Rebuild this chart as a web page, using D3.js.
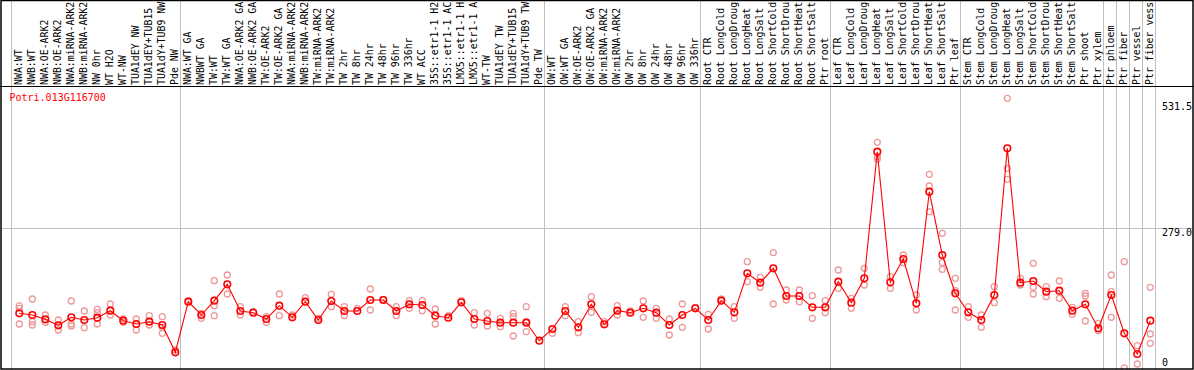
<!DOCTYPE html>
<html>
<head>
<meta charset="utf-8">
<script src="https://cdn.jsdelivr.net/npm/d3@7"></script>
<style>
  html, body { margin: 0; padding: 0; background: #fff; }
  svg { display: block; }
  text { font-family: "DejaVu Sans Mono", monospace; font-size: 10px; }
</style>
</head>
<body>
<div class="chart"></div>
<script>
// Category groups (columns), left to right; labels as shown (cut to 14 chars)
var nwCats = ["NWA:WT", "NWB:WT", "NWA:OE-ARK2", "NWB:OE-ARK2", "NWA:miRNA-ARK2", "NWB:miRNA-ARK2",
  "NW 0hr", "WT H2O", "WT-NW", "TUA1dEY NW", "TUA1dEY+TUB15", "TUA1dY+TUB9 NW", "Pde NW"];
var twCats = ["NWA:WT GA", "NWBWT GA", "TW:WT", "TW:WT GA", "NWA:OE-ARK2 GA", "NWB:OE-ARK2 GA",
  "TW:OE-ARK2", "TW:OE-ARK2 GA", "NWA:miRNA-ARK2", "NWB:miRNA-ARK2", "TW:miRNA-ARK2", "TW:miRNA-ARK2",
  "TW 2hr", "TW 8hr", "TW 24hr", "TW 48hr", "TW 96hr", "TW 336hr", "WT ACC",
  "35S::etr1-1 H2", "35S::etr1-1 AC", "LMX5::etr1-1 H", "LMX5::etr1-1 A",
  "WT-TW", "TUA1dEY TW", "TUA1dEY+TUB15", "TUA1dY+TUB9 TW", "Pde TW"];
var owCats = ["OW:WT", "OW:WT GA", "OW:OE-ARK2", "OW:OE-ARK2 GA", "OW:miRNA-ARK2", "OW:miRNA-ARK2",
  "OW 2hr", "OW 8hr", "OW 24hr", "OW 48hr", "OW 96hr", "OW 336hr"];
var rootCats = ["Root CTR", "Root LongCold", "Root LongDroug", "Root LongHeat", "Root LongSalt",
  "Root ShortCold", "Root ShortDrou", "Root ShortHeat", "Root ShortSalt", "Ptr root"];
var leafCats = ["Leaf CTR", "Leaf LongCold", "Leaf LongDroug", "Leaf LongHeat", "Leaf LongSalt",
  "Leaf ShortCold", "Leaf ShortDrou", "Leaf ShortHeat", "Leaf ShortSalt", "Ptr leaf"];
var stemCats = ["Stem CTR", "Stem LongCold", "Stem LongDroug", "Stem LongHeat", "Stem LongSalt",
  "Stem ShortCold", "Stem ShortDrou", "Stem ShortHeat", "Stem ShortSalt", "Ptr shoot", "Ptr xylem"];
var tissueCats = [["Ptr phloem"], ["Ptr fiber"], ["Ptr vessel"], ["Ptr fiber vess"]];

var groups = [nwCats, twCats, owCats, rootCats, leafCats, stemCats].concat(tissueCats);

var geneId = "Potri.013G116700";
var yTicks = [0, 279.0, 531.5];
var yMax = 558;

// mean expression per column
var means = [
  109, 105.6, 97, 85, 101, 95.6, 100.2, 114.2, 94.2, 87.6, 92.2, 85.6, 31,
  132.2, 105.6, 134.2, 167, 113.6, 110.2, 97.6, 124.2, 101, 132.2, 95.6, 133.6, 113.6, 113.6,
  135.6, 135.6, 113.6, 127, 125.6, 104.2, 100.2, 131, 97.6, 93.6, 90.2, 90.2, 90.2, 54.2,
  77.6, 113.6, 81, 127, 87, 114.2, 110.2, 119, 110.2, 85.6, 105.6, 119,
  95.6, 134.2, 111, 189, 170.2, 199, 143.6, 143.6, 121, 121,
  172.2, 130.2, 179, 432.2, 171, 217.6, 129, 352.2, 225.6, 149,
  111, 95.6, 145.6, 439, 170.2, 173.6, 152.2, 154.2, 114.2, 127, 79,
  145.6, 69, 27.6, 94.2
];

// individual replicate values per column
var reps = [
  [124, 119, 87.6], [137.6, 92.2, 85.6], [105.6, 91], [95.6, 75.6], [133.6, 87.6, 83.6],
  [113.6, 80.2], [117, 110.2, 87.6], [127.6, 105.6], [97.6, 91], [97.6, 75.6],
  [104.2, 85.6], [102.2, 81, 69], [35.6],
  [134.2], [109, 99], [174.2, 124.2, 104.2], [185.6, 147.6], [122.2, 105.6], [112.2],
  [102.2, 91], [147.6, 104.2], [105.6], [140.2], [99], [147, 122.2], [122.2, 104.2], [119],
  [157.6, 115.6], [137], [122.2, 104.2], [134.2, 119], [134.2, 114.2], [117.6, 87.6], [104.2],
  [134.2], [110.2, 85.6], [109, 83.6], [99, 82.2], [109, 102.2, 63.6], [122.2, 92.2, 72.2], [],
  [69], [122.2, 104.2], [92.2, 70.2], [142.2, 111], [92.2], [124.2, 105.6], [113.6],
  [133.6, 101], [119, 99], [97.6, 65.6], [127.6, 81], [121],
  [107, 77.6], [137.6], [122.2, 99], [212.2, 172.2], [181, 161], [230.2, 127.6],
  [155.6, 135.6], [155.6, 132.2], [144.2, 99], [134.2, 110.2],
  [195.6, 159], [139, 119], [199, 165.6], [451, 422.2, 417.6], [182.2, 159], [225.6, 210.2],
  [145.6, 115.6], [387, 363.6, 312.2], [269, 210.2, 197], [179, 154.2, 115.6],
  [122.2, 101], [105.6, 81], [162.2, 130.2], [539, 399, 377], [179, 165.6], [209, 161, 147.6],
  [162.2, 142.2], [173.6, 139], [121, 107], [149, 143.6, 93.6], [89, 74.2],
  [185.6, 152.2, 101], [212.2, 0], [44.2, 7.6], [161, 67.6, 49]
];

var W = 1194, H = 370;
var labelBottom = 86;   // black line under the rotated labels
var plotBottom = 368.5;

var categories = [];
var groupStarts = [];
groups.forEach(function(g) {
  groupStarts.push(categories.length);
  categories = categories.concat(g);
});
groupStarts.push(categories.length);

var svg = d3.select(".chart").append("svg")
  .attr("width", W)
  .attr("height", H);

var x = d3.scaleBand()
  .domain(d3.range(categories.length))
  .range([10.7, 10.7 + 13 * categories.length])
  .paddingInner(0).paddingOuter(0);
var px = function(i) { return x(i) + 8.6; };

var y = d3.scaleLinear()
  .domain([0, yMax])
  .range([367.8, 367.8 - yMax * 0.5]);

// group separators
svg.append("g").selectAll("line")
  .data(groupStarts)
  .enter().append("line")
  .attr("x1", function(d) { return Math.round(x(0) + 13 * d) + 0.5; })
  .attr("x2", function(d) { return Math.round(x(0) + 13 * d) + 0.5; })
  .attr("y1", 0).attr("y2", H)
  .attr("stroke", "#c0c0c0").attr("stroke-width", 1);

// middle gridline
svg.append("line")
  .attr("x1", 2).attr("x2", W - 2)
  .attr("y1", Math.round(y(yTicks[1])) + 0.5)
  .attr("y2", Math.round(y(yTicks[1])) + 0.5)
  .attr("stroke", "#c0c0c0");

// rotated column labels
svg.append("g")
  .selectAll("text")
  .data(categories)
  .enter().append("text")
  .attr("transform", function(d, i) { return "translate(" + (px(i) + 3) + "," + (labelBottom - 1) + ") rotate(-90)"; })
  .attr("fill", "#000")
  .style("font-size", "9.9px")
  .text(function(d) { return d; });

// y value labels on the right
svg.append("g").selectAll("text")
  .data(yTicks)
  .enter().append("text")
  .attr("x", 1162)
  .attr("y", function(d) { return Math.min(y(d) + 8, 365.5); })
  .attr("fill", "#000")
  .text(function(d) { return d === 0 ? "0" : d.toFixed(1); });

// gene id
svg.append("text")
  .attr("x", 9.5).attr("y", 101)
  .attr("fill", "#ff0000")
  .text(geneId);

// replicate circles
var repPts = [];
reps.forEach(function(r, i) { r.forEach(function(v) { repPts.push({i: i, v: v}); }); });
svg.append("g").selectAll("circle")
  .data(repPts)
  .enter().append("circle")
  .attr("cx", function(d) { return px(d.i); })
  .attr("cy", function(d) { return y(d.v); })
  .attr("r", 3)
  .attr("fill", "none")
  .attr("stroke", "#ee9999")
  .attr("stroke-width", 1.3);

// mean line
var line = d3.line()
  .x(function(d, i) { return px(i); })
  .y(function(d) { return y(d); });
svg.append("path")
  .datum(means)
  .attr("d", line)
  .attr("fill", "none")
  .attr("stroke", "#ff0000")
  .attr("stroke-width", 1.1);

// mean circles
svg.append("g").selectAll("circle")
  .data(means)
  .enter().append("circle")
  .attr("cx", function(d, i) { return px(i); })
  .attr("cy", function(d) { return y(d); })
  .attr("r", 3.3)
  .attr("fill", "none")
  .attr("stroke", "#ff0000")
  .attr("stroke-width", 1.6);

// borders
svg.append("line").attr("x1", 0).attr("x2", W).attr("y1", labelBottom + 0.5).attr("y2", labelBottom + 0.5)
  .attr("stroke", "#000");
svg.append("rect")
  .attr("x", 1).attr("y", 0.5).attr("width", W - 2).attr("height", plotBottom)
  .attr("fill", "none").attr("stroke", "#000").attr("stroke-width", 1.5);
</script>
</body>
</html>
